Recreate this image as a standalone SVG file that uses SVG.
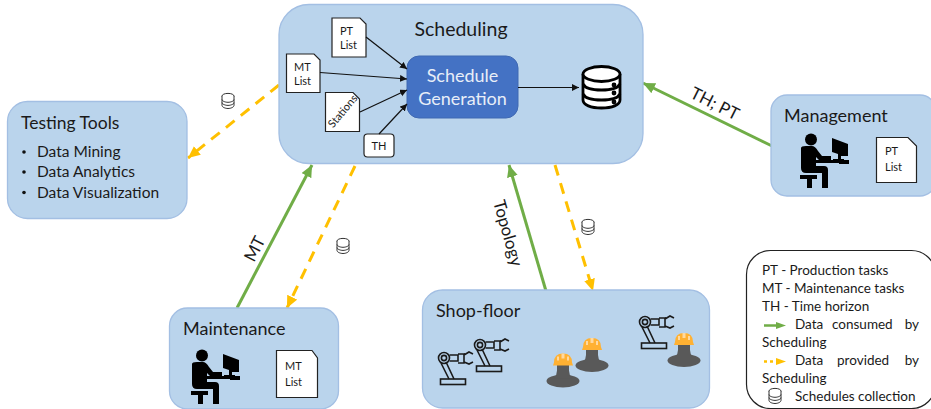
<svg xmlns="http://www.w3.org/2000/svg" xmlns:xlink="http://www.w3.org/1999/xlink" width="931" height="409" viewBox="0 0 931 409">
<style>
text{font-family:Lato,"Open Sans",sans-serif;fill:#1a1a1a}
.box{fill:#bad4ec;stroke:#a3bfe3;stroke-width:1.3}
.doc{fill:#fff;stroke:#222;stroke-width:1.2}
.h{font-size:18px}
.t16{font-size:17px}.t15{font-size:15.5px}.t11{font-size:11px}
.g{stroke:#70ad47;stroke-width:3;fill:none}
.y{stroke:#ffc000;stroke-width:3;fill:none;stroke-dasharray:11 8}
.k{stroke:#111;stroke-width:1.2;fill:none}
.rb{fill:none;stroke:#1a1a1a;stroke-width:1.6}
</style>
<defs>
<marker id="ag" markerUnits="userSpaceOnUse" markerWidth="14" markerHeight="12" refX="12" refY="5.5" orient="auto"><path d="M0 0L12 5.5L0 11Z" fill="#70ad47"/></marker>
<marker id="ay" markerUnits="userSpaceOnUse" markerWidth="14" markerHeight="12" refX="12" refY="5.5" orient="auto"><path d="M0 0L12 5.5L0 11Z" fill="#ffc000"/></marker>
<marker id="ak" markerUnits="userSpaceOnUse" markerWidth="8" markerHeight="8" refX="7" refY="3.5" orient="auto"><path d="M0 0L7 3.5L0 7Z" fill="#111"/></marker>
<g id="person">
<circle cx="11" cy="5.5" r="6" fill="#000"/>
<path d="M1 14Q1 12 6 12H12Q15 12 18 17L22 22H31V26H19L16 23V32H24Q28 32 28 36V54H22V39H6Q1 39 1 34Z" fill="#000"/>
<path d="M0 41H17V45H12V54H7V45H0Z" fill="#000"/>
<path d="M15 26H49V30H39V29H15Z" fill="#000"/>
<path d="M32 4L48 10V22H41V25H44V27H33V25H38V20L32 18Z" fill="#000"/>
<rect x="22" y="22" width="8" height="3" fill="#000"/>
</g>
<g id="robot">
<circle cx="6" cy="6" r="5.500" class="rb"/><circle cx="6" cy="6" r="2.600" class="rb"/>
<path class="rb" d="M3 11L11 27M8 10L16 27"/>
<rect x="2.500" y="27" width="25" height="5.500" class="rb"/>
<path class="rb" d="M11.500 3H20V9H11.500M20 2H26V11H20M26 3L31 0L35 2M26 10L31 12L35 10"/>
</g>
<g id="worker">
<ellipse cx="16" cy="27.500" rx="16.500" ry="6.500" fill="#595959"/>
<path d="M10 11H22V17Q22 21 25 25H7Q10 21 10 17Z" fill="#595959"/>
<path d="M7 9Q7 0 16 0Q25 0 25 9L26 12H6Z" fill="#ffb133"/>
<path d="M14.500 0H17.500V5H14.500ZM10 3H12V7H10ZM20 3H22V7H20Z" fill="#ffd9a0"/>
</g>
<g id="db">
<ellipse cx="7" cy="3" rx="6" ry="2.600" fill="#fff" stroke="#333"/>
<path d="M1 3V12.500C1 14 4 15.500 7 15.500S13 14 13 12.500V3M1 6.500C1 8 4 9.300 7 9.300S13 8 13 6.500M1 9.600C1 11 4 12.400 7 12.400S13 11 13 9.600" fill="#fff" stroke="#333"/>
</g>
</defs>

<g id="connectors">
<path class="y" d="M279 85L188 158" marker-end="url(#ay)"/>
<path class="g" d="M237 308L312 165" marker-end="url(#ag)"/>
<path class="y" d="M355 166L287 308" marker-end="url(#ay)"/>
<path class="g" d="M546 291L509 165" marker-end="url(#ag)"/>
<path class="y" d="M555 165L593 291" marker-end="url(#ay)"/>
<path class="g" d="M772 146L643 83" marker-end="url(#ag)"/>
</g>

<g id="scheduling">
<rect class="box" x="279" y="4.500" width="364" height="159" rx="30"/>
<text x="461" y="36" text-anchor="middle" style="font-size:19.500px">Scheduling</text>
<g id="schedule-generation"><rect x="407" y="56" width="111" height="62" rx="12" fill="#4472c4" stroke="#3f68b2"/>
<text x="462.500" y="82" text-anchor="middle" style="font-size:18px;fill:#e8eef8">Schedule</text>
<text x="462.500" y="105" text-anchor="middle" style="font-size:18px;fill:#e8eef8">Generation</text></g>
<g id="pt-list-a"><path class="doc" d="M332 18H360L366 24V57H332Z"/><text class="t11" x="340" y="35">PT</text><text class="t11" x="340" y="49">List</text></g>
<g id="mt-list-a"><path class="doc" d="M286.500 54H314L320 60V92.500H286.500Z"/><text class="t11" x="294" y="71">MT</text><text class="t11" x="294" y="85">List</text></g>
<g id="stations"><path class="doc" d="M325.500 92.500H353L359.500 99V131.500H325.500Z"/><text class="t11" transform="translate(333 128.500) rotate(-50)">Stations</text></g>
<g id="th"><rect x="364" y="134" width="30" height="23" rx="3.500" fill="#fff" stroke="#222" stroke-width="1.200"/><text class="t11" x="379" y="150" text-anchor="middle">TH</text></g>
<path class="k" d="M366 37L407 69" marker-end="url(#ak)"/>
<path class="k" d="M320 72.500L407 79" marker-end="url(#ak)"/>
<path class="k" d="M360 112L407 90" marker-end="url(#ak)"/>
<path class="k" d="M379 134L407 104" marker-end="url(#ak)"/>
<path class="k" d="M518 87.500H579" marker-end="url(#ak)"/>
<g id="database" fill="#fff" stroke="#000" stroke-width="2.800">
<path d="M583 74V100C583 105 591 108 601.500 108S620 105 620 100V74"/>
<ellipse cx="601.500" cy="74" rx="18.500" ry="7.500"/>
<path d="M583 84C585 88 593 90 601.500 90S618 88 620 84M583 94C585 98 593 100 601.500 100S618 98 620 94" fill="none"/>
<circle cx="614" cy="85" r="1" fill="#000"/><circle cx="614" cy="93" r="1" fill="#000"/><circle cx="614" cy="102" r="1" fill="#000"/>
</g>
</g>

<g id="testing-tools">
<rect class="box" x="7.500" y="101.500" width="179.500" height="117" rx="20"/>
<text x="21" y="129" style="font-size:17.500px">Testing Tools</text>
<g class="t15"><circle cx="24" cy="152" r="1.800" fill="#111"/><text x="37" y="157">Data Mining</text>
<circle cx="24" cy="172" r="1.800" fill="#111"/><text x="37" y="177">Data Analytics</text>
<circle cx="24" cy="192.500" r="1.800" fill="#111"/><text x="37" y="198">Data Visualization</text></g>
</g>

<g id="management">
<rect class="box" x="771" y="95" width="165" height="101" rx="16"/>
<text class="h" x="784" y="122">Management</text>
<use xlink:href="#person" x="800" y="134"/>
<path class="doc" d="M876.500 137.500H908L916.500 146V182.500H876.500Z"/>
<text class="t11" x="885" y="155">PT</text><text class="t11" x="885" y="171">List</text>
</g>

<g id="maintenance">
<rect class="box" x="169.500" y="308" width="169" height="101" rx="18"/>
<text class="h" x="183" y="335">Maintenance</text>
<use xlink:href="#person" x="191" y="350"/>
<path class="doc" d="M276.500 350.500H312L317.500 358V397.500H276.500Z"/>
<text class="t11" x="285" y="370">MT</text><text class="t11" x="285" y="386">List</text>
</g>

<g id="shop-floor">
<rect class="box" x="422.500" y="290" width="287" height="118" rx="20"/>
<text class="h" x="436" y="317">Shop-floor</text>
<use xlink:href="#robot" x="438" y="352"/>
<use xlink:href="#robot" x="474" y="339"/>
<use xlink:href="#robot" x="639" y="316"/>
<use xlink:href="#worker" x="547" y="353.500"/>
<use xlink:href="#worker" x="576" y="338"/>
<use xlink:href="#worker" x="668" y="333"/>
</g>

<g id="legend">
<rect x="746.500" y="250.500" width="189" height="158" rx="24" fill="#fff" stroke="#222" stroke-width="1.200"/>
<g style="font-size:13.500px">
<text x="762" y="275">PT - Production tasks</text>
<text x="762" y="293">MT - Maintenance tasks</text>
<text x="762" y="311">TH - Time horizon</text>
<text x="795" y="329">Data</text><text x="832" y="329">consumed</text><text x="919" y="329" text-anchor="end">by</text>
<text x="762" y="347">Scheduling</text>
<text x="795" y="365">Data</text><text x="837" y="365">provided</text><text x="919" y="365" text-anchor="end">by</text>
<text x="762" y="383">Scheduling</text>
<text x="795" y="401">Schedules collection</text>
</g>
<path d="M764 325.500H778" stroke="#70ad47" stroke-width="2.500"/><path d="M776 322L786 325.500L776 329Z" fill="#70ad47"/>
<path d="M764 361.500H776" stroke="#ffc000" stroke-width="2.500" stroke-dasharray="3 3"/><path d="M776 358L786 361.500L776 365Z" fill="#ffc000"/>
<use xlink:href="#db" x="768" y="388"/>
</g>

<g id="labels">
<use xlink:href="#db" x="221" y="93"/>
<use xlink:href="#db" x="336" y="238"/>
<use xlink:href="#db" x="581" y="219"/>
<text class="t16" transform="translate(254 263) rotate(-63)">MT</text>
<text class="t16" transform="translate(493 202) rotate(74)">Topology</text>
<text class="t16" transform="translate(689 97) rotate(27)">TH; PT</text>
</g>
</svg>
